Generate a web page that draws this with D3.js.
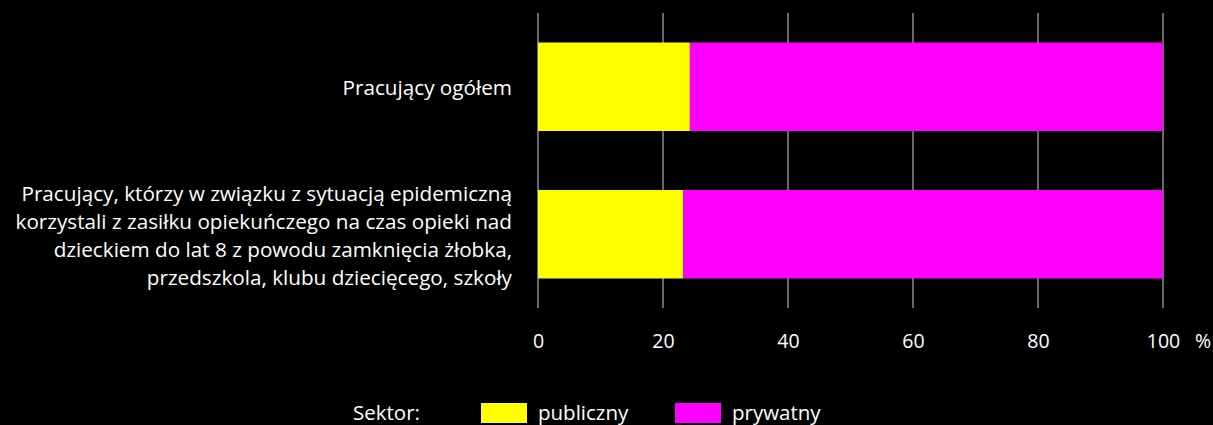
<!DOCTYPE html>
<html>
<head>
<meta charset="utf-8">
<script src="https://cdn.jsdelivr.net/npm/d3@7"></script>
<style>
  html, body { margin: 0; padding: 0; background: #000; }
  svg text { font-family: "Open Sans", "Noto Sans", sans-serif; fill: #fff; }
</style>
</head>
<body>
<svg id="chart" width="1213" height="425"></svg>
<script>
'use strict';

// data
const categories = [
    ["Pracujący ogółem"],
    ["Pracujący, którzy w związku z sytuacją epidemiczną",
     "korzystali z zasiłku opiekuńczego na czas opieki nad",
     "dzieckiem do lat 8 z powodu zamknięcia żłobka,",
     "przedszkola, klubu dziecięcego, szkoły"]
];
const seriesNames = ["publiczny", "prywatny"];
const publiczny = [24.3, 23.2];
const prywatny = [75.7, 76.8];
const xTicks = [0, 20, 40, 60, 80, 100];
const legendTitle = "Sektor:";
const unitLabel = "%";

const colors = ["#ffff00", "#ff00ff"];

const svg = d3.select("#chart");
const margin = {left: 538, right: 50, top: 13, bottom: 117};
const width = 1213 - margin.left - margin.right;
const height = 425 - margin.top - margin.bottom;

const x = d3.scaleLinear().domain([0, 100]).range([0, width]);
const y = d3.scaleBand()
    .domain(d3.range(categories.length))
    .range([0, height])
    .paddingInner(0.4)
    .paddingOuter(0.2);

const g = svg.append("g").attr("transform", `translate(${margin.left},${margin.top})`);

// gridlines
g.append("g")
    .selectAll("line")
    .data(xTicks)
    .join("line")
    .attr("x1", d => x(d)).attr("x2", d => x(d))
    .attr("y1", 0).attr("y2", height)
    .attr("stroke", "#8c8c8c")
    .attr("stroke-width", 1.5);

// stacked bars
const rows = categories.map((c, i) => ({i: i, publiczny: publiczny[i], prywatny: prywatny[i]}));
const stack = d3.stack().keys(seriesNames)(rows);

g.append("g")
    .selectAll("g")
    .data(stack)
    .join("g")
    .attr("fill", (d, k) => colors[k])
    .selectAll("rect")
    .data(d => d)
    .join("rect")
    .attr("x", d => x(d[0]))
    .attr("width", d => x(d[1]) - x(d[0]))
    .attr("y", d => y(d.data.i))
    .attr("height", y.bandwidth());

// x tick labels
const xAxis = g.append("g")
    .attr("transform", `translate(0,${height + 40})`)
    .call(d3.axisBottom(x).tickValues(xTicks).tickSize(0).tickPadding(0));
xAxis.select(".domain").remove();
xAxis.selectAll("text")
    .attr("fill", "#fff")
    .style("font-size", "19.5px")
    .style("font-family", "\"Open Sans\", \"Noto Sans\", sans-serif")
    .attr("dy", "0");
g.append("text")
    .attr("x", x(100) + 40)
    .attr("y", height + 40)
    .attr("text-anchor", "middle")
    .style("font-size", "19.5px")
    .text(unitLabel);

// category labels
const lineH = 28;
const catG = svg.append("g");
categories.forEach((lines, i) => {
    const cy = margin.top + y(i) + y.bandwidth() / 2 + 1.5;
    const t = catG.append("text")
        .attr("text-anchor", "end")
        .style("font-size", "20.7px");
    lines.forEach((ln, j) => {
        t.append("tspan")
            .attr("x", 512)
            .attr("y", cy + (j - (lines.length - 1) / 2) * lineH)
            .attr("dy", "0.35em")
            .text(ln);
    });
});

// legend
const legend = svg.append("g").attr("transform", "translate(0,413)");
legend.append("text").attr("x", 353).attr("dy", "0.35em").style("font-size", "20.5px").text(legendTitle);
const legendX = [481, 675];
seriesNames.forEach((s, k) => {
    legend.append("rect")
        .attr("x", legendX[k]).attr("y", -10)
        .attr("width", 46).attr("height", 20)
        .attr("fill", colors[k]);
    legend.append("text")
        .attr("x", legendX[k] + 57)
        .attr("dy", "0.35em")
        .style("font-size", "20.5px")
        .text(s);
});
</script>
</body>
</html>
